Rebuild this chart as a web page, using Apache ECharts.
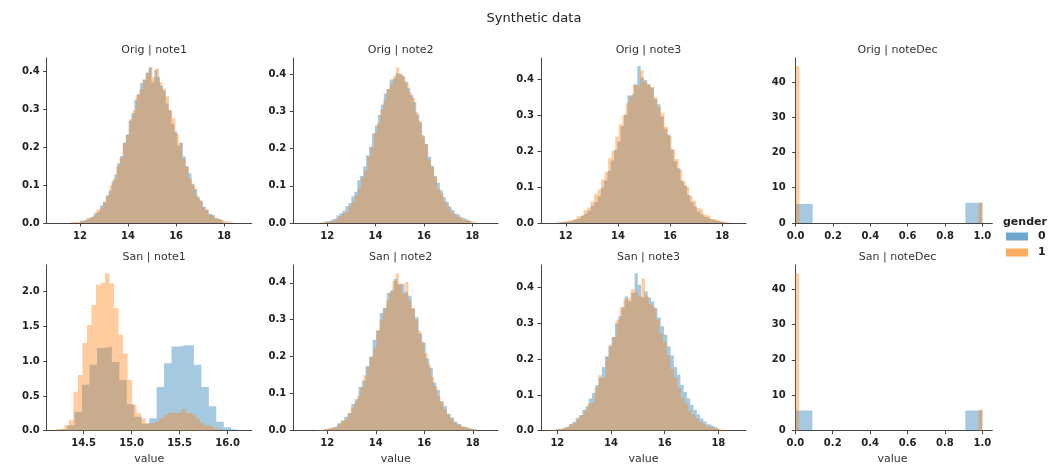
<!DOCTYPE html>
<html><head><meta charset="utf-8">
<script src="https://cdn.jsdelivr.net/npm/echarts@6/dist/echarts.min.js"></script>
<style>html,body{margin:0;padding:0;background:#fff}#c{width:1063px;height:464px}</style>
</head><body><div id="c"></div>
<script>
// ---------- DATA (density histograms: [first bin edge, bin width] + bin heights) ----------
const mainTitle = 'Synthetic data';
const panelTitles = ['Orig | note1','Orig | note2','Orig | note3','Orig | noteDec','San | note1','San | note2','San | note3','San | noteDec'];
const genders = ['0','1'];
const xAxisName = 'value';

const origNote1_g0_bins = [12.0, 0.119];
const origNote1_g0 = [0.006,0.008,0.011,0.016,0.018,0.027,0.032,0.046,0.055,0.072,0.086,0.110,0.128,0.158,0.177,0.212,0.234,0.270,0.290,0.326,0.341,0.370,0.378,0.398,0.410,0.372,0.405,0.386,0.362,0.350,0.316,0.298,0.262,0.242,0.205,0.212,0.176,0.150,0.131,0.104,0.090,0.068,0.058,0.042,0.035,0.024,0.020,0.013,0.010,0.006];
const origNote1_g1_bins = [11.58, 0.1374];
const origNote1_g1 = [0.002,0.003,0.002,0.005,0.007,0.013,0.016,0.022,0.036,0.041,0.057,0.074,0.099,0.116,0.150,0.171,0.212,0.233,0.275,0.298,0.338,0.352,0.380,0.396,0.412,0.385,0.408,0.372,0.356,0.335,0.298,0.276,0.236,0.212,0.170,0.149,0.116,0.100,0.073,0.061,0.043,0.035,0.022,0.019,0.011,0.009,0.005,0.004,0.002,0.002];

const origNote2_g0_bins = [11.9, 0.122];
const origNote2_g0 = [0.005,0.006,0.011,0.013,0.020,0.026,0.033,0.045,0.054,0.072,0.084,0.115,0.126,0.152,0.182,0.205,0.240,0.262,0.290,0.318,0.348,0.360,0.385,0.390,0.402,0.398,0.394,0.380,0.362,0.343,0.325,0.291,0.270,0.232,0.212,0.178,0.154,0.126,0.108,0.088,0.069,0.057,0.043,0.035,0.025,0.020,0.014,0.011,0.007,0.005];
const origNote2_g1_bins = [11.7, 0.131];
const origNote2_g1 = [0.002,0.002,0.004,0.006,0.009,0.013,0.019,0.026,0.031,0.046,0.058,0.074,0.093,0.122,0.140,0.178,0.203,0.242,0.268,0.305,0.328,0.359,0.372,0.395,0.418,0.401,0.392,0.378,0.350,0.336,0.298,0.275,0.236,0.212,0.170,0.150,0.123,0.091,0.080,0.057,0.047,0.031,0.025,0.017,0.014,0.008,0.006,0.004,0.002,0.002];

const origNote3_g0_bins = [11.82, 0.127];
const origNote3_g0 = [0.003,0.004,0.005,0.008,0.011,0.014,0.020,0.026,0.034,0.048,0.058,0.074,0.098,0.118,0.145,0.174,0.204,0.226,0.270,0.302,0.355,0.360,0.385,0.437,0.405,0.398,0.386,0.376,0.345,0.330,0.296,0.262,0.246,0.205,0.172,0.152,0.118,0.104,0.078,0.058,0.046,0.032,0.024,0.017,0.012,0.009,0.006,0.004,0.002,0.002];
const origNote3_g1_bins = [11.6, 0.135];
const origNote3_g1 = [0.002,0.003,0.004,0.006,0.009,0.012,0.019,0.023,0.036,0.043,0.060,0.080,0.093,0.121,0.142,0.180,0.201,0.240,0.274,0.300,0.333,0.352,0.385,0.380,0.425,0.392,0.385,0.378,0.350,0.322,0.305,0.268,0.242,0.203,0.178,0.148,0.115,0.100,0.075,0.062,0.042,0.037,0.022,0.020,0.012,0.010,0.005,0.004,0.002,0.002];

const origDec_g0_bins = [0, 0.0909];
const origDec_g0 = [5.4,0,0,0,0,0,0,0,0,0,5.77];
const origDec_g1_bins = [0, 0.02];
const origDec_g1 = [44.5,0,0,0,0,0,0,0,0,0,0,0,0,0,0,0,0,0,0,0,0,0,0,0,0,0,0,0,0,0,0,0,0,0,0,0,0,0,0,0,0,0,0,0,0,0,0,0,0,5.77];

const sanNote1_g0_bins = [14.252, 0.0776];
const sanNote1_g0 = [0.02,0.08,0.27,0.66,0.95,1.19,1.21,0.99,0.73,0.38,0.20,0.10,0.18,0.63,0.97,1.21,1.23,1.23,0.95,0.63,0.35,0.13,0.05,0.02];
const sanNote1_g1_bins = [14.207, 0.047];
const sanNote1_g1 = [0.024,0.03,0.08,0.15,0.56,0.80,1.26,1.52,1.81,2.10,2.13,2.26,2.12,1.76,1.38,1.11,0.73,0.37,0.25,0.18,0.11,0.10,0.13,0.18,0.23,0.26,0.25,0.27,0.31,0.25,0.23,0.18,0.11,0.08,0.06,0.03,0.02];

const sanNote2_g0_bins = [10.95, 0.146];
const sanNote2_g0 = [0.001,0,0,0.001,0.002,0.002,0.004,0.006,0.009,0.012,0.020,0.026,0.038,0.048,0.072,0.085,0.118,0.136,0.175,0.200,0.246,0.270,0.318,0.332,0.372,0.380,0.410,0.395,0.398,0.374,0.365,0.330,0.306,0.262,0.238,0.195,0.170,0.130,0.110,0.080,0.066,0.046,0.036,0.024,0.018,0.011,0.008,0.005,0.003,0.002];
const sanNote2_g1_bins = [11.65, 0.132];
const sanNote2_g1 = [0.002,0.004,0.005,0.008,0.008,0.010,0.018,0.028,0.030,0.046,0.062,0.076,0.094,0.118,0.150,0.172,0.200,0.224,0.272,0.298,0.330,0.352,0.375,0.405,0.425,0.398,0.370,0.402,0.352,0.332,0.300,0.270,0.240,0.210,0.178,0.145,0.120,0.094,0.076,0.058,0.045,0.033,0.024,0.017,0.012,0.009,0.006,0.004,0.003,0.002];

const sanNote3_g0_bins = [11.95, 0.122];
const sanNote3_g0 = [0.004,0.005,0.009,0.012,0.018,0.024,0.034,0.043,0.058,0.068,0.090,0.105,0.128,0.148,0.178,0.208,0.236,0.262,0.300,0.320,0.345,0.375,0.362,0.385,0.440,0.408,0.372,0.390,0.372,0.362,0.342,0.316,0.292,0.268,0.236,0.210,0.178,0.156,0.128,0.108,0.090,0.072,0.058,0.046,0.034,0.026,0.018,0.013,0.008,0.005];
const sanNote3_g1_bins = [11.65, 0.134];
const sanNote3_g1 = [0.002,0.003,0.004,0.006,0.010,0.012,0.019,0.024,0.036,0.044,0.058,0.076,0.080,0.120,0.155,0.148,0.205,0.240,0.262,0.310,0.345,0.368,0.372,0.395,0.388,0.375,0.425,0.378,0.355,0.345,0.310,0.270,0.248,0.210,0.172,0.148,0.118,0.092,0.075,0.056,0.045,0.034,0.024,0.018,0.012,0.009,0.006,0.004,0.003,0.002];

const sanDec_g0_bins = [0, 0.0909];
const sanDec_g0 = [5.74,0,0,0,0,0,0,0,0,0,5.74];
const sanDec_g1_bins = [0, 0.02];
const sanDec_g1 = [44.4,0,0,0,0,0,0,0,0,0,0,0,0,0,0,0,0,0,0,0,0,0,0,0,0,0,0,0,0,0,0,0,0,0,0,0,0,0,0,0,0,0,0,0,0,0,0,0,0,6.0];

// tick labels
const xTicksNote = [12, 14, 16, 18];
const xTicksSan1 = [14.5, 15.0, 15.5, 16.0];
const xTicksDec = [0, 0.2, 0.4, 0.6, 0.8, 1.0];
const yTicksDensity = [0, 0.1, 0.2, 0.3, 0.4];
const yTicksSan1 = [0, 0.5, 1.0, 1.5, 2.0];
const yTicksDec = [0, 10, 20, 30, 40];

// axis ranges
const xRanges = [[10.61,19.15],[10.6,19.06],[11.05,18.91],[-0.016,1.053],[14.117,16.25],[10.6,19.04],[11.39,19.03],[-0.014,1.053]];
const yMax = [0.436, 0.443, 0.459, 46.8, 2.384, 0.448, 0.463, 46.8];

// ---------- LAYOUT / STYLE ----------
const FONT = 'DejaVu Sans';
const gridLeft = [46.7, 293.3, 541, 792.7];
const gridWidth = [205, 204.7, 205, 199.6];
const gridTop = [58, 265];
const gridHeight = [165, 165.7];
const fillColors = ['rgba(31,119,180,0.4)', 'rgba(255,127,14,0.4)'];
const legendColors = ['rgba(31,119,180,0.65)', 'rgba(255,127,14,0.65)'];
const axisColor = '#444';

const panelHist = [
  [[origNote1_g0_bins, origNote1_g0],[origNote1_g1_bins, origNote1_g1]],
  [[origNote2_g0_bins, origNote2_g0],[origNote2_g1_bins, origNote2_g1]],
  [[origNote3_g0_bins, origNote3_g0],[origNote3_g1_bins, origNote3_g1]],
  [[origDec_g0_bins, origDec_g0],[origDec_g1_bins, origDec_g1]],
  [[sanNote1_g0_bins, sanNote1_g0],[sanNote1_g1_bins, sanNote1_g1]],
  [[sanNote2_g0_bins, sanNote2_g0],[sanNote2_g1_bins, sanNote2_g1]],
  [[sanNote3_g0_bins, sanNote3_g0],[sanNote3_g1_bins, sanNote3_g1]],
  [[sanDec_g0_bins, sanDec_g0],[sanDec_g1_bins, sanDec_g1]]
];
const xTicks = [xTicksNote,xTicksNote,xTicksNote,xTicksDec,xTicksSan1,xTicksNote,xTicksNote,xTicksDec];
const xDec = [0,0,0,1,1,0,0,1];
const yTicks = [yTicksDensity,yTicksDensity,yTicksDensity,yTicksDec,yTicksSan1,yTicksDensity,yTicksDensity,yTicksDec];
const yDec = [1,1,1,0,1,1,1,0];

function stepPoints(bins, h) {
  const pts = [];
  for (let i = 0; i < h.length; i++) pts.push([bins[0] + i * bins[1], h[i]]);
  pts.push([bins[0] + h.length * bins[1], h[h.length - 1]]);
  return pts;
}

const grids = [], xAxes = [], yAxes = [], series = [];
const titles = [{
  text: mainTitle, left: 529, top: 7, textAlign: 'center',
  textStyle: {fontFamily: FONT, fontSize: 13, fontWeight: 'normal', color: '#222'}
}];
for (let k = 0; k < 8; k++) {
  const r = Math.floor(k / 4), c = k % 4;
  grids.push({left: gridLeft[c], top: gridTop[r], width: gridWidth[c], height: gridHeight[r],
    containLabel: false, outerBoundsMode: 'none'});
  titles.push({
    text: panelTitles[k], left: gridLeft[c] + gridWidth[c] / 2, top: gridTop[r] - 18, textAlign: 'center',
    textStyle: {fontFamily: FONT, fontSize: 11, fontWeight: 'normal', color: '#333'}
  });
  const xd = xDec[k], yd = yDec[k];
  xAxes.push({
    type: 'value', gridIndex: k, min: xRanges[k][0], max: xRanges[k][1],
    axisLine: {show: true, onZero: false, lineStyle: {color: axisColor, width: 1}},
    axisTick: {show: true, length: 3.5, customValues: xTicks[k], lineStyle: {color: axisColor}},
    axisLabel: {customValues: xTicks[k], formatter: v => Number(v).toFixed(xd), margin: 8,
      fontFamily: FONT, fontSize: 10, fontWeight: 'bold', color: '#222'},
    splitLine: {show: false},
    name: r === 1 ? xAxisName : '', nameLocation: 'middle', nameGap: 23,
    nameTextStyle: {fontFamily: FONT, fontSize: 11, color: '#333'}
  });
  yAxes.push({
    type: 'value', gridIndex: k, min: 0, max: yMax[k],
    axisLine: {show: true, lineStyle: {color: axisColor, width: 1}},
    axisTick: {show: true, length: 3.5, customValues: yTicks[k], lineStyle: {color: axisColor}},
    axisLabel: {customValues: yTicks[k], formatter: v => Number(v).toFixed(yd), margin: 7,
      fontFamily: FONT, fontSize: 10, fontWeight: 'bold', color: '#222'},
    splitLine: {show: false}
  });
  for (let g = 0; g < 2; g++) {
    const [bins, h] = panelHist[k][g];
    series.push({
      type: 'line', name: genders[g], xAxisIndex: k, yAxisIndex: k,
      data: stepPoints(bins, h), step: 'end', symbol: 'none', showSymbol: false,
      lineStyle: {width: 0, opacity: 0}, itemStyle: {color: legendColors[g]},
      areaStyle: {color: fillColors[g], opacity: 1},
      silent: true, animation: false, emphasis: {disabled: true}, z: 2 + g
    });
  }
}
titles.push({
  text: 'gender', left: 998, top: 212,
  textStyle: {fontFamily: FONT, fontSize: 11, fontWeight: 'bold', color: '#222'}
});

const chart = echarts.init(document.getElementById('c'), null, {renderer: 'canvas'});
chart.setOption({
  backgroundColor: '#fff',
  animation: false,
  title: titles,
  grid: grids,
  xAxis: xAxes,
  yAxis: yAxes,
  legend: {
    orient: 'vertical', left: 1001, top: 226, icon: 'rect', itemWidth: 22, itemHeight: 8, itemGap: 5,
    selectedMode: false,
    textStyle: {fontFamily: FONT, fontSize: 11, fontWeight: 'bold', color: '#222', padding: [0,0,0,5]},
    data: genders.map((g, i) => ({name: g, itemStyle: {color: legendColors[i]}}))
  },
  series: series
});
</script>
</body></html>
